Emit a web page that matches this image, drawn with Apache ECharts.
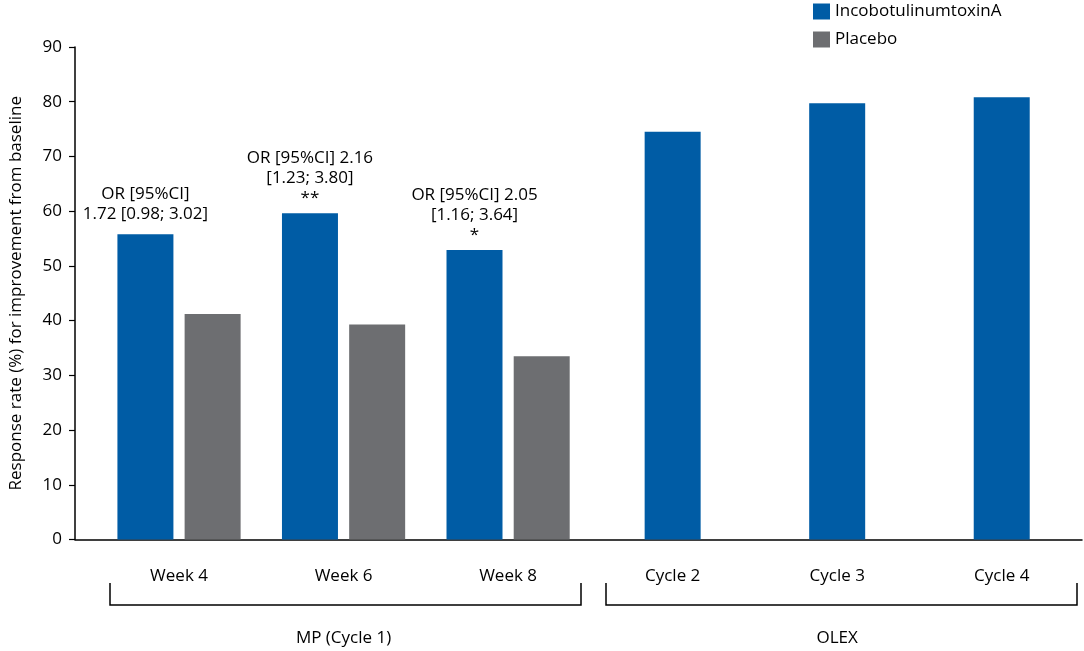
<!DOCTYPE html>
<html>
<head>
<meta charset="utf-8">
<script src="https://cdn.jsdelivr.net/npm/echarts@6/dist/echarts.min.js"></script>
<style>
	html, body { margin: 0; padding: 0; background: #fff; }
	#chart { width: 1084px; height: 651px; }
</style>
</head>
<body>
<div id="chart"></div>
<script>
// 数据
var categories = ['Week 4', 'Week 6', 'Week 8', 'Cycle 2', 'Cycle 3', 'Cycle 4'];
var groups = ['MP (Cycle 1)', 'OLEX'];
var incoMP = [55.8, 59.6, 52.9, '-', '-', '-'];
var placebo = [41.2, 39.3, 33.5, '-', '-', '-'];
var incoOLEX = ['-', '-', '-', 74.5, 79.7, 80.8];
var orLabels = [
	'OR [95%CI]\n1.72 [0.98; 3.02]',
	'OR [95%CI] 2.16\n[1.23; 3.80]\n**',
	'OR [95%CI] 2.05\n[1.16; 3.64]\n*'
];
var yMin = 0, yMax = 90, yStep = 10;

var BLUE = '#005ca5';
var GREY = '#6d6e71';
var FONT = 'Open Sans';
var FS = 17;

var myChart = echarts.init(document.getElementById('chart'));

var incoMPData = incoMP.map(function (v, i) {
	if (v === '-' || !orLabels[i]) return v;
	return {
		value: v,
		label: { show: true, formatter: orLabels[i], distance: i == 0 ? 10 : 5 }
	};
});

option = {
	animation: false,
	textStyle: { fontFamily: FONT, color: '#000' },
	legend: {
		data: ['IncobotulinumtoxinA', 'Placebo'],
		orient: 'vertical',
		left: 813,
		top: 3,
		padding: 0,
		itemWidth: 17,
		itemHeight: 16,
		itemGap: 11,
		icon: 'rect',
		textStyle: { fontSize: FS, color: '#000', fontFamily: FONT }
	},
	grid: [
		// 柱子所在的网格
		{ left: 96.75, width: 993.5, top: 47, bottom: 111.5 },
		// 坐标轴线
		{ left: 73, right: 2, top: 47, bottom: 111.5 }
	],
	xAxis: [
		{
			type: 'category',
			gridIndex: 0,
			data: categories,
			axisLine: { show: false },
			axisTick: { show: false },
			axisLabel: { margin: 28, fontSize: FS, color: '#000', fontFamily: FONT }
		},
		{
			type: 'category',
			gridIndex: 0,
			data: groups,
			position: 'bottom',
			axisLine: { show: false },
			axisTick: { show: false },
			axisLabel: { margin: 90, fontSize: FS, color: '#000', fontFamily: FONT }
		},
		{
			type: 'category',
			gridIndex: 0,
			data: categories,
			show: false
		},
		{
			type: 'value',
			gridIndex: 1,
			min: 0,
			max: 1,
			axisLine: { show: true, onZero: false, lineStyle: { color: '#000', width: 1.5 } },
			axisTick: { show: false },
			axisLabel: { show: false },
			splitLine: { show: false }
		}
	],
	yAxis: [
		{
			type: 'value',
			gridIndex: 0,
			min: yMin,
			max: yMax,
			interval: yStep,
			show: false
		},
		{
			type: 'value',
			gridIndex: 1,
			min: yMin,
			max: yMax,
			interval: yStep,
			name: 'Response rate (%) for improvement from baseline',
			nameLocation: 'middle',
			nameGap: 50,
			nameTextStyle: { fontSize: FS, color: '#000', fontFamily: FONT },
			axisLine: { show: true, lineStyle: { color: '#000', width: 1.5 } },
			axisTick: { show: true, length: 6, lineStyle: { color: '#000', width: 1.2 } },
			axisLabel: { margin: 13, fontSize: FS, color: '#000', fontFamily: FONT },
			splitLine: { show: false }
		}
	],
	series: [
		{
			name: 'IncobotulinumtoxinA',
			type: 'bar',
			xAxisIndex: 0,
			yAxisIndex: 0,
			barWidth: 56,
			barGap: '20%',
			itemStyle: { color: BLUE },
			label: {
				position: 'top',
				color: '#000',
				fontSize: FS,
				lineHeight: 20,
				fontFamily: FONT
			},
			data: incoMPData
		},
		{
			name: 'Placebo',
			type: 'bar',
			xAxisIndex: 0,
			yAxisIndex: 0,
			barWidth: 56,
			barGap: '20%',
			itemStyle: { color: GREY },
			data: placebo
		},
		{
			name: 'IncobotulinumtoxinA',
			type: 'bar',
			xAxisIndex: 2,
			yAxisIndex: 0,
			barWidth: 56,
			itemStyle: { color: BLUE },
			data: incoOLEX
		}
	],
	graphic: [
		{
			type: 'polyline',
			shape: { points: [[110, 583], [110, 605], [581, 605], [581, 583]] },
			style: { stroke: '#000', lineWidth: 1.5, fill: null }
		},
		{
			type: 'polyline',
			shape: { points: [[606, 583], [606, 605], [1077, 605], [1077, 583]] },
			style: { stroke: '#000', lineWidth: 1.5, fill: null }
		}
	]
};
myChart.setOption(option);
</script>
</body>
</html>
